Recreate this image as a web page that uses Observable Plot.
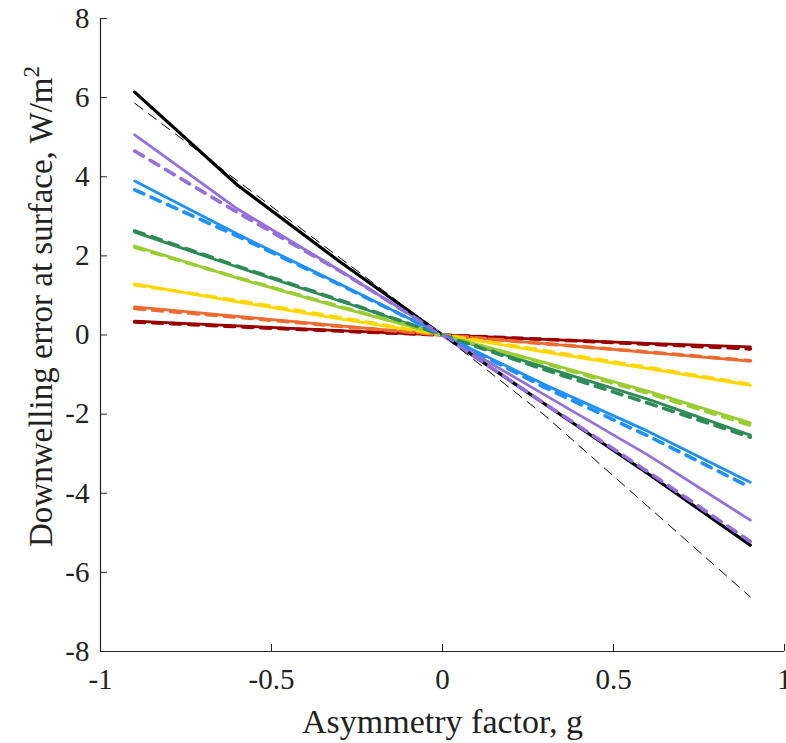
<!DOCTYPE html>
<html>
<head>
<meta charset="utf-8">
<script src="https://cdn.jsdelivr.net/npm/d3@7"></script>
<script src="https://cdn.jsdelivr.net/npm/@observablehq/plot@0.6"></script>
<style>
  html, body { margin: 0; padding: 0; background: #fff; }
  #chart svg { display: block; }
  #chart svg text, #chart svg tspan { font-family: "Liberation Serif", "Times New Roman", serif !important; }
</style>
</head>
<body>
<div id="chart"></div>
<script>
// Asymmetry factor nodes
const gNodes = [-0.9, -0.6, -0.3, 0, 0.3, 0.6, 0.9];

// Series (in drawing order) and their colours
const seriesNames = ["s1", "s2", "s3", "s4", "s5", "s6", "s7", "s8"];
const seriesColors = ["#990000", "#EE6A2E", "#FFD700", "#9ACD32", "#2E8B57", "#1E90FF", "#9370DB", "#000000"];

// Solid-line values (W/m^2)
const solidDarkred     = [0.35, 0.23, 0.11, 0, -0.11, -0.21, -0.30];
const solidOrange      = [0.71, 0.47, 0.23, 0, -0.22, -0.44, -0.66];
const solidGold        = [1.29, 0.84, 0.41, 0, -0.43, -0.85, -1.27];
const solidYellowgreen = [2.25, 1.44, 0.70, 0, -0.70, -1.42, -2.22];
const solidSeagreen    = [2.60, 1.72, 0.86, 0, -0.82, -1.62, -2.53];
const solidBlue        = [3.89, 2.55, 1.29, 0, -1.26, -2.43, -3.72];
const solidPurple      = [5.06, 3.19, 1.63, 0, -1.52, -3.03, -4.68];
const solidBlack       = [6.14, 3.79, 1.85, 0, -1.75, -3.50, -5.31];

// Dashed-line values (W/m^2)
const dashDarkred     = [0.33, 0.21, 0.10, 0, -0.11, -0.23, -0.35];
const dashOrange      = [0.67, 0.45, 0.22, 0, -0.22, -0.43, -0.65];
const dashGold        = [1.27, 0.87, 0.44, 0, -0.40, -0.82, -1.25];
const dashYellowgreen = [2.22, 1.45, 0.72, 0, -0.72, -1.47, -2.28];
const dashSeagreen    = [2.63, 1.74, 0.88, 0, -0.88, -1.72, -2.58];
const dashBlue        = [3.67, 2.50, 1.27, 0, -1.33, -2.55, -3.85];
const dashPurple      = [4.65, 3.10, 1.62, 0, -1.74, -3.45, -5.22];
const dashBlack       = [5.86, 3.90, 1.95, 0, -2.04, -4.33, -6.62];

const solidSets = [solidDarkred, solidOrange, solidGold, solidYellowgreen, solidSeagreen, solidBlue, solidPurple, solidBlack];
const dashSets  = [dashDarkred, dashOrange, dashGold, dashYellowgreen, dashSeagreen, dashBlue, dashPurple, dashBlack];

// Axis ticks and labels
const xTicks = [-1, -0.5, 0, 0.5, 1];
const yTicks = [-8, -6, -4, -2, 0, 2, 4, 6, 8];
const xDomain = [-1, 1];
const yDomain = [-8, 8];
const xLabel = "Asymmetry factor, g";
const yLabel = "Downwelling error at surface, W/m";
const yLabelSup = "2";

function rows(sets) {
  const out = [];
  sets.forEach((vals, si) => vals.forEach((v, i) => out.push({series: seriesNames[si], g: gNodes[i], v})));
  return out;
}
const solidRows = rows(solidSets);
const dashRows = rows(dashSets);

const W = 786, H = 743, mL = 100, mR = 2, mT = 18, mB = 92;
const tickPx = 7;
const tickLenY = (yDomain[1] - yDomain[0]) * tickPx / (H - mT - mB);
const tickLenX = (xDomain[1] - xDomain[0]) * tickPx / (W - mL - mR);

const colorScale = {type: "ordinal", domain: seriesNames, range: seriesColors};

const solidMarks = seriesNames.map((name, i) =>
  Plot.line(solidRows.filter(d => d.series === name), {
    x: "g", y: "v", stroke: "series",
    strokeWidth: i === 7 ? 3.2 : 2.8
  })
);
const dashMarks = seriesNames.map((name, i) =>
  Plot.line(dashRows.filter(d => d.series === name), {
    x: "g", y: "v", stroke: "series",
    strokeWidth: i === 7 ? 1 : 3.6,
    strokeDasharray: i === 7 ? "10,7" : "10,8"
  })
);

const chart = Plot.plot({
  width: W, height: H,
  marginLeft: mL, marginRight: mR, marginTop: mT, marginBottom: mB,
  style: {background: "#fff", color: "#222", overflow: "visible"},
  x: {domain: xDomain},
  y: {domain: yDomain},
  color: colorScale,
  marks: [
    Plot.axisX({ticks: xTicks, tickSize: 0, tickPadding: 17, tickFormat: d => String(d), fontSize: 29, label: null, color: "#222"}),
    Plot.axisY({ticks: yTicks, tickSize: 0, tickPadding: 11, tickFormat: d => String(d), fontSize: 29, label: null, color: "#222"}),
    Plot.ruleY([yDomain[0]], {stroke: "#262626", strokeWidth: 1.2}),
    Plot.ruleX([xDomain[0]], {stroke: "#262626", strokeWidth: 1.2}),
    Plot.ruleX(xTicks, {y1: yDomain[0], y2: yDomain[0] + tickLenY, stroke: "#262626"}),
    Plot.ruleY(yTicks, {x1: xDomain[0], x2: xDomain[0] + tickLenX, stroke: "#262626"}),
    ...solidMarks,
    ...dashMarks,
    Plot.text([xLabel], {x: 0, frameAnchor: "bottom", dy: 71, fontSize: 34, fill: "#222", lineAnchor: "middle", text: d => d})
  ]
});

document.getElementById("chart").appendChild(chart);

// Y-axis label with superscript
const svg = d3.select(chart);
const yl = svg.append("text")
  .attr("transform", `translate(52, ${(mT + H - mB) / 2 - 28}) rotate(-90)`)
  .attr("text-anchor", "middle")
  .attr("fill", "#222")
  .style("font-size", "33px");
yl.append("tspan").text(yLabel);
yl.append("tspan").attr("dy", "-0.55em").style("font-size", "23px").text(yLabelSup);
</script>
</body>
</html>
